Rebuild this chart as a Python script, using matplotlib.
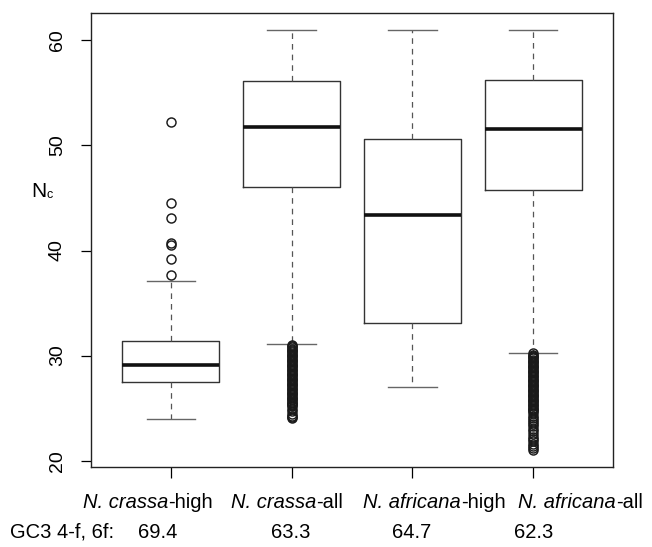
import matplotlib
matplotlib.use("Agg")
import matplotlib.pyplot as plt

plt.rcParams['font.family'] = ['Liberation Sans', 'DejaVu Sans']

# box statistics
species = ['N. crassa', 'N. crassa', 'N. africana', 'N. africana']
suffixes = ['-high', '-all', '-high', '-all']
gc3 = ['69.4', '63.3', '64.7', '62.3']
medians = [29.1, 51.8, 43.4, 51.6]
q1 = [27.5, 46.0, 33.1, 45.8]
q3 = [31.4, 56.1, 50.6, 56.2]
whis_lo = [24.0, 31.1, 27.0, 30.2]
whis_hi = [37.1, 61.0, 61.0, 61.0]

fliers_crassa_high = [37.7, 39.2, 40.5, 40.7, 43.1, 44.5, 52.2]
fliers_crassa_all = [31.02, 30.9, 30.79, 30.66, 30.55, 30.43, 30.3, 30.19, 30.07,
                     29.95, 29.83, 29.7, 29.58, 29.47, 29.35, 29.22, 29.1, 28.98,
                     28.87, 28.74, 28.62, 28.5, 28.39, 28.26, 28.14, 28.02, 27.9,
                     27.78, 27.66, 27.55, 27.42, 27.3, 27.18, 27.06, 26.95, 26.82,
                     26.7, 26.58, 26.46, 26.35, 26.22, 26.1, 25.98, 25.86, 25.74,
                     25.62, 25.5, 25.4, 25.3, 25.22, 24.95, 24.7, 24.48, 24.3,
                     24.15, 24.02]
fliers_africana_high = []
fliers_africana_all = [30.22, 30.1, 29.98, 29.86, 29.74, 29.62, 29.5, 29.38, 29.26,
                       29.14, 29.02, 28.9, 28.78, 28.66, 28.54, 28.42, 28.3, 28.18,
                       28.06, 27.94, 27.82, 27.7, 27.58, 27.46, 27.34, 27.22, 27.1,
                       26.98, 26.86, 26.74, 26.62, 26.5, 26.38, 26.26, 26.14, 26.02,
                       25.9, 25.78, 25.66, 25.54, 25.42, 25.3, 25.18, 25.06, 24.94,
                       24.82, 24.7, 24.52, 24.3, 24.1, 23.88, 23.7, 23.5, 23.3,
                       23.05, 22.8, 22.55, 22.3, 22.1, 21.85, 21.6, 21.4, 21.2, 21.02]
fliers = [fliers_crassa_high, fliers_crassa_all, fliers_africana_high, fliers_africana_all]

stats = []
for i in range(len(species)):
    stats.append({'med': medians[i], 'q1': q1[i], 'q3': q3[i],
                  'whislo': whis_lo[i], 'whishi': whis_hi[i],
                  'fliers': fliers[i]})

W, H = 652, 547
fig = plt.figure(figsize=(W / 100, H / 100), dpi=100)
ax = fig.add_axes([91 / W, 1 - 467 / H, 522 / W, 454 / H])

ax.bxp(stats, positions=[1, 2, 3, 4], widths=0.8, showfliers=True,
       boxprops=dict(color='#333333', linewidth=1.0),
       medianprops=dict(color='#111111', linewidth=2.6, solid_capstyle='butt'),
       whiskerprops=dict(color='#555555', linewidth=0.9, linestyle=(0, (4.5, 4))),
       capprops=dict(color='#666666', linewidth=1.0),
       capwidths=0.4,
       flierprops=dict(marker='o', markersize=6.5, markerfacecolor='none',
                       markeredgecolor='#1a1a1a', markeredgewidth=1.05))

ax.set_xlim(0.34, 4.66)
ax.set_ylim(19.4, 62.6)
ax.set_yticks([20, 30, 40, 50, 60])
ax.set_xticks([1, 2, 3, 4])
ax.set_xticklabels([''] * 4)
for s in ax.spines.values():
    s.set_linewidth(1.0)
    s.set_color('#222222')

ax.tick_params(axis='y', length=7, width=0.9, pad=11, labelsize=14, labelrotation=90)
for lab in ax.get_yticklabels():
    lab.set_va('center')
ax.tick_params(axis='x', length=8, width=0.9)

fs = 14.5
# y label N with a small c
n = fig.text(31 / W, 1 - 197 / H, 'N', fontsize=15, ha='left', va='baseline')
ax.annotate('c', xy=(1, 0), xycoords=n, xytext=(0.5, 0), textcoords='offset points',
            fontsize=9, ha='left', va='bottom', annotation_clip=False)

# group labels: italic species name followed by plain suffix
label_x = [83, 231, 363, 518]
for i in range(4):
    t = fig.text(label_x[i] / W, 1 - 508 / H, species[i], fontsize=fs,
                 style='italic', ha='left', va='baseline')
    ax.annotate(suffixes[i], xy=(1, 0), xycoords=t, fontsize=fs,
                ha='left', va='bottom', annotation_clip=False)

# GC3 row
fig.text(10 / W, 1 - 538 / H, 'GC3 4-f, 6f:', fontsize=fs, ha='left', va='baseline')
gc3_x = [157.5, 291, 412, 534]
for i, v in enumerate(gc3):
    fig.text(gc3_x[i] / W, 1 - 538 / H, v, fontsize=fs, ha='center', va='baseline')

fig.savefig('out.png', dpi=100)
